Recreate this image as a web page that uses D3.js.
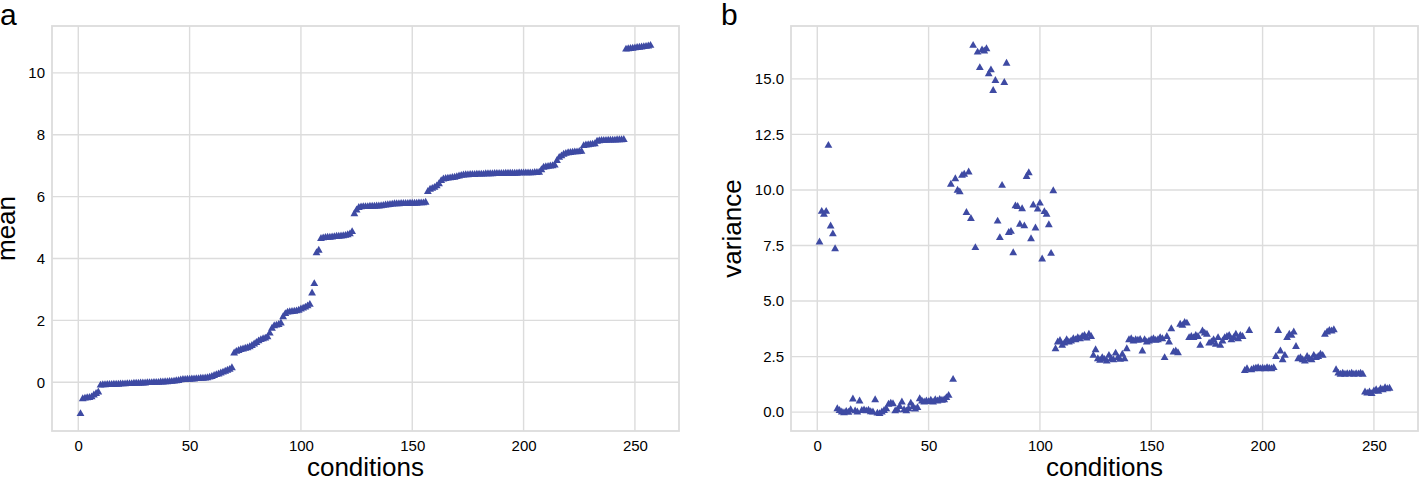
<!DOCTYPE html>
<html>
<head>
<meta charset="utf-8">
<script src="https://cdn.jsdelivr.net/npm/d3@7"></script>
<style>
  html, body { margin: 0; padding: 0; background: #fff; }
  svg { display: block; }
  text { font-family: "Liberation Sans", Arial, Helvetica, sans-serif; fill: #000; }
</style>
</head>
<body>
<svg id="chart" width="1424" height="481"></svg>
<script>
// ---------------- data ----------------
const meanValues = [
  -0.98, -0.50, -0.48, -0.47, -0.46, -0.44, -0.38, -0.33, -0.28, -0.06,
  -0.05, -0.05, -0.04, -0.04, -0.04, -0.03, -0.03, -0.03, -0.02, -0.02,
  -0.02, -0.01, -0.01, -0.01, 0.00, 0.00, 0.00, 0.01, 0.01, 0.01,
  0.02, 0.02, 0.02, 0.03, 0.03, 0.03, 0.04, 0.04, 0.05, 0.05,
  0.06, 0.06, 0.07, 0.08, 0.09, 0.11, 0.12, 0.12, 0.13, 0.13,
  0.14, 0.14, 0.15, 0.15, 0.16, 0.16, 0.17, 0.18, 0.20, 0.22,
  0.25, 0.28, 0.30, 0.33, 0.36, 0.39, 0.42, 0.45, 0.50, 0.98,
  1.03, 1.06, 1.09, 1.11, 1.13, 1.15, 1.18, 1.22, 1.27, 1.32,
  1.37, 1.41, 1.44, 1.46, 1.50, 1.62, 1.78, 1.86, 1.88, 1.90,
  1.95, 2.15, 2.25, 2.30, 2.31, 2.32, 2.33, 2.34, 2.36, 2.40,
  2.43, 2.46, 2.50, 2.55, 2.92, 3.22, 4.22, 4.30, 4.68, 4.70,
  4.71, 4.72, 4.72, 4.73, 4.74, 4.75, 4.75, 4.76, 4.77, 4.78,
  4.80, 4.83, 4.90, 5.48, 5.60, 5.68, 5.70, 5.71, 5.71, 5.71,
  5.72, 5.72, 5.72, 5.73, 5.73, 5.74, 5.75, 5.76, 5.77, 5.78,
  5.79, 5.80, 5.80, 5.80, 5.81, 5.81, 5.81, 5.81, 5.82, 5.82,
  5.82, 5.82, 5.83, 5.83, 5.83, 5.85, 6.20, 6.27, 6.30, 6.33,
  6.38, 6.45, 6.55, 6.60, 6.62, 6.63, 6.64, 6.65, 6.66, 6.68,
  6.70, 6.72, 6.73, 6.74, 6.74, 6.75, 6.75, 6.75, 6.76, 6.76,
  6.76, 6.76, 6.77, 6.77, 6.77, 6.77, 6.78, 6.78, 6.78, 6.78,
  6.78, 6.79, 6.79, 6.79, 6.79, 6.79, 6.79, 6.80, 6.80, 6.80,
  6.80, 6.80, 6.80, 6.80, 6.81, 6.81, 6.82, 6.90, 6.98, 7.00,
  7.01, 7.02, 7.03, 7.05, 7.20, 7.30, 7.35, 7.40, 7.43, 7.45,
  7.46, 7.47, 7.48, 7.48, 7.49, 7.50, 7.68, 7.70, 7.71, 7.72,
  7.73, 7.74, 7.82, 7.84, 7.85, 7.85, 7.85, 7.86, 7.86, 7.86,
  7.86, 7.87, 7.87, 7.87, 7.88, 10.80, 10.81, 10.82, 10.83, 10.84,
  10.85, 10.86, 10.87, 10.88, 10.89, 10.90, 10.92
];

const varianceValues = [
  7.70, 9.08, 8.95, 9.08, 12.05, 8.42, 8.07, 7.40, 0.20, 0.12,
  0.05, 0.02, 0.08, 0.04, 0.15, 0.64, 0.10, 0.05, 0.55, 0.12,
  0.14, 0.10, 0.13, 0.06, 0.05, 0.60, 0.00, -0.02, 0.05, 0.12,
  0.20, 0.40, 0.45, 0.42, 0.10, 0.15, 0.30, 0.50, 0.15, 0.10,
  0.20, 0.45, 0.30, 0.18, 0.25, 0.65, 0.55, 0.50, 0.55, 0.52,
  0.58, 0.50, 0.60, 0.55, 0.62, 0.58, 0.60, 0.70, 0.80, 10.30,
  1.52, 10.55, 10.03, 9.96, 10.70, 10.75, 9.03, 10.85, 8.76, 16.55,
  7.45, 16.25, 15.55, 16.35, 16.30, 16.40, 15.27, 15.45, 14.52, 14.97,
  8.64, 7.90, 10.25, 14.88, 15.75, 8.13, 8.18, 7.22, 9.33, 9.30,
  8.50, 9.20, 8.43, 10.65, 10.82, 7.85, 9.37, 8.33, 9.18, 9.45,
  6.94, 9.07, 8.95, 8.48, 7.19, 10.01, 2.90, 3.20, 3.27, 3.05,
  3.15, 3.30, 3.20, 3.25, 3.35, 3.30, 3.40, 3.35, 3.45, 3.50,
  3.38, 3.55, 3.45, 2.60, 2.85, 2.45, 2.38, 2.50, 2.42, 2.35,
  2.60, 2.45, 2.40, 2.70, 2.50, 2.42, 2.65, 2.45, 2.90, 3.30,
  3.35, 3.25, 3.30, 3.28, 3.32, 2.80, 3.30, 3.20, 3.25, 3.30,
  3.35, 3.28, 3.30, 3.40, 3.35, 2.50, 3.45, 3.20, 3.80, 2.75,
  2.80, 2.72, 4.00, 3.95, 4.08, 4.05, 3.40, 3.45, 3.40, 3.50,
  3.45, 3.05, 3.70, 3.60, 3.55, 3.15, 3.20, 3.30, 3.10, 3.40,
  3.05, 3.25, 3.40, 3.45, 3.50, 3.30, 3.40, 3.55, 3.35, 3.50,
  3.45, 1.92, 2.00, 3.72, 1.95, 2.00, 2.02, 2.05, 2.00, 2.02,
  2.00, 2.05, 2.02, 2.00, 2.05, 2.55, 3.72, 2.80, 2.40, 2.60,
  3.40, 3.55, 3.50, 3.65, 3.00, 2.45, 2.50, 2.40, 2.35, 2.55,
  2.45, 2.40, 2.60, 2.50, 2.55, 2.65, 2.60, 3.55, 3.65, 3.72,
  3.70, 3.75, 1.95, 1.80, 1.75, 1.80, 1.75, 1.78, 1.76, 1.80,
  1.75, 1.78, 1.76, 1.80, 1.75, 0.95, 0.90, 0.95, 0.88, 1.00,
  1.05, 0.98, 1.10, 1.05, 1.15, 1.10, 1.12
];

const conditions = meanValues.map((_, i) => i + 1);

const xTicks = [0, 50, 100, 150, 200, 250];
const meanTicks = [0, 2, 4, 6, 8, 10];
const varianceTicks = [0, 2.5, 5, 7.5, 10, 12.5, 15];

// ---------------- drawing ----------------
const svg = d3.select("#chart");
const markerColor = "#3e4aa3";
const gridColor = "#dcdcdc";

function padded(ext) {
  const r = ext[1] - ext[0];
  return [ext[0] - 0.05 * r, ext[1] + 0.05 * r];
}

function panel(opts) {
  const { left, right, top, bottom, values, yTicks, yFmt, yLabel, letter, letterX, yLabelX } = opts;
  const g = svg.append("g");

  const x = d3.scaleLinear().domain(padded(d3.extent(conditions))).range([left, right]);
  const y = d3.scaleLinear().domain(padded(d3.extent(values))).range([bottom, top]);

  // grid
  g.append("g").selectAll("line").data(xTicks).join("line")
    .attr("x1", d => x(d)).attr("x2", d => x(d))
    .attr("y1", top).attr("y2", bottom)
    .attr("stroke", gridColor).attr("stroke-width", 1.4);
  g.append("g").selectAll("line").data(yTicks).join("line")
    .attr("y1", d => y(d)).attr("y2", d => y(d))
    .attr("x1", left).attr("x2", right)
    .attr("stroke", gridColor).attr("stroke-width", 1.4);

  // frame
  g.append("rect")
    .attr("x", left).attr("y", top)
    .attr("width", right - left).attr("height", bottom - top)
    .attr("fill", "none").attr("stroke", gridColor).attr("stroke-width", 1.8);

  // axes (labels only, no tick marks)
  const xAxis = d3.axisBottom(x).tickValues(xTicks).tickSize(0).tickPadding(0);
  const xg = g.append("g").attr("transform", `translate(0,${bottom + 9})`).call(xAxis);
  xg.select(".domain").remove();
  xg.selectAll("text").attr("font-size", 15).attr("dy", "0.71em")
    .style("font-family", '"Liberation Sans", Arial, sans-serif').attr("fill", "#000");

  const yAxis = d3.axisLeft(y).tickValues(yTicks).tickFormat(yFmt).tickSize(0).tickPadding(0);
  const yg = g.append("g").attr("transform", `translate(${left - 7},0)`).call(yAxis);
  yg.select(".domain").remove();
  yg.selectAll("text").attr("font-size", 15)
    .style("font-family", '"Liberation Sans", Arial, sans-serif').attr("fill", "#000");

  // markers
  const w = 7.8, h = 6.9;
  const tri = `M0,${-h / 2}L${w / 2},${h / 2}L${-w / 2},${h / 2}Z`;
  g.append("g").selectAll("path").data(values).join("path")
    .attr("d", tri)
    .attr("transform", (d, i) => `translate(${x(conditions[i])},${y(d)})`)
    .attr("fill", markerColor);

  // axis titles
  g.append("text")
    .attr("x", (left + right) / 2).attr("y", 476)
    .attr("text-anchor", "middle").attr("font-size", 26)
    .text("conditions");
  g.append("text")
    .attr("transform", `translate(${yLabelX},${(top + bottom) / 2}) rotate(-90)`)
    .attr("text-anchor", "middle").attr("font-size", 26)
    .text(yLabel);

  // panel letter
  g.append("text")
    .attr("x", letterX).attr("y", 25)
    .attr("font-size", 30)
    .text(letter);
}

panel({
  left: 52, right: 679, top: 26, bottom: 431,
  values: meanValues, yTicks: meanTicks, yFmt: d3.format("d"),
  yLabel: "mean", letter: "a", letterX: 0, yLabelX: 15
});

panel({
  left: 791, right: 1418, top: 26, bottom: 431,
  values: varianceValues, yTicks: varianceTicks, yFmt: d3.format(".1f"),
  yLabel: "variance", letter: "b", letterX: 721, yLabelX: 741
});
</script>
</body>
</html>
